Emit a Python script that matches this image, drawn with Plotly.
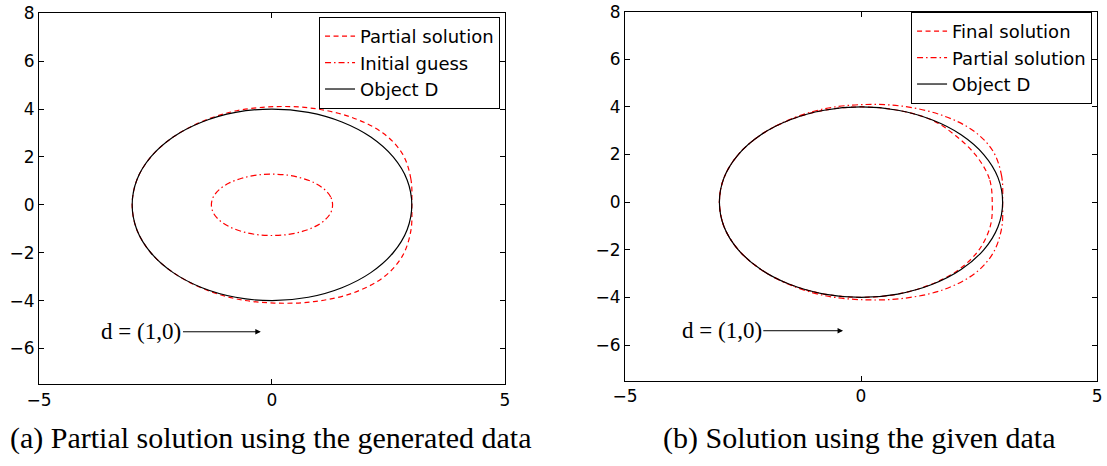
import plotly.graph_objects as go

# Boundary curves, sampled every 15 degrees around the shape (closed loops)
object_x = [3.00, 2.90, 2.60, 2.12, 1.50, 0.78, 0.00, -0.78, -1.50, -2.12, -2.60, -2.90, -3.00,
            -2.90, -2.60, -2.12, -1.50, -0.78, 0.00, 0.78, 1.50, 2.12, 2.60, 2.90, 3.00]
object_y = [0.00, 1.04, 2.00, 2.83, 3.46, 3.86, 4.00, 3.86, 3.46, 2.83, 2.00, 1.04, 0.00,
            -1.04, -2.00, -2.83, -3.46, -3.86, -4.00, -3.86, -3.46, -2.83, -2.00, -1.04, 0.00]

partial_x = [3.00, 2.98, 2.80, 2.38, 1.70, 0.88, 0.05, -0.76, -1.50, -2.12, -2.60, -2.90, -3.00,
             -2.90, -2.60, -2.12, -1.50, -0.76, 0.05, 0.90, 1.74, 2.42, 2.80, 2.98, 3.00]
partial_y = [0.00, 1.08, 2.13, 3.00, 3.66, 4.03, 4.10, 3.93, 3.48, 2.83, 2.00, 1.04, 0.00,
             -1.04, -2.00, -2.83, -3.48, -3.93, -4.10, -4.04, -3.68, -2.98, -2.13, -1.08, 0.00]

initial_x = [1.30, 1.26, 1.13, 0.92, 0.65, 0.34, 0.00, -0.34, -0.65, -0.92, -1.13, -1.26, -1.30,
             -1.26, -1.13, -0.92, -0.65, -0.34, 0.00, 0.34, 0.65, 0.92, 1.13, 1.26, 1.30]
initial_y = [0.00, 0.33, 0.64, 0.91, 1.11, 1.24, 1.28, 1.24, 1.11, 0.91, 0.64, 0.33, 0.00,
             -0.33, -0.64, -0.91, -1.11, -1.24, -1.28, -1.24, -1.11, -0.91, -0.64, -0.33, 0.00]

final_x = [2.78, 2.72, 2.44, 2.00, 1.50, 0.78, 0.00, -0.78, -1.50, -2.12, -2.60, -2.90, -3.00,
           -2.90, -2.60, -2.12, -1.50, -0.78, 0.00, 0.78, 1.49, 2.08, 2.50, 2.74, 2.78]
final_y = [0.00, 0.98, 1.95, 2.80, 3.45, 3.86, 4.00, 3.86, 3.46, 2.83, 2.00, 1.04, 0.00,
           -1.04, -2.00, -2.83, -3.46, -3.86, -4.00, -3.86, -3.45, -2.82, -2.00, -1.00, 0.00]

x_ticks = [-5, 0, 5]
y_ticks = [-6, -4, -2, 0, 2, 4, 6, 8]
x_range = [-5, 5]
y_range = [-7.5, 8]

direction_label = "d = (1,0)"
captions = ["(a) Partial solution using the generated data",
            "(b) Solution using the given data"]

RED = "#ff0000"
DASH = "5px,3.5px"
DASHDOT = "6px,3px,1.5px,3px"
TICK_FONT = dict(family="DejaVu Sans", size=17, color="black")

fig = go.Figure()

# Panel (a)
fig.add_trace(go.Scatter(x=partial_x, y=partial_y, mode="lines", name="Partial solution",
                         line=dict(color=RED, width=1.2, dash=DASH, shape="spline"),
                         xaxis="x", yaxis="y", legend="legend"))
fig.add_trace(go.Scatter(x=initial_x, y=initial_y, mode="lines", name="Initial guess",
                         line=dict(color=RED, width=1.2, dash=DASHDOT, shape="spline"),
                         xaxis="x", yaxis="y", legend="legend"))
fig.add_trace(go.Scatter(x=object_x, y=object_y, mode="lines", name="Object D",
                         line=dict(color="black", width=1.2, shape="spline"),
                         xaxis="x", yaxis="y", legend="legend"))

# Panel (b)
fig.add_trace(go.Scatter(x=final_x, y=final_y, mode="lines", name="Final solution",
                         line=dict(color=RED, width=1.2, dash=DASH, shape="spline"),
                         xaxis="x2", yaxis="y2", legend="legend2"))
fig.add_trace(go.Scatter(x=partial_x, y=partial_y, mode="lines", name="Partial solution",
                         line=dict(color=RED, width=1.2, dash=DASHDOT, shape="spline"),
                         xaxis="x2", yaxis="y2", legend="legend2"))
fig.add_trace(go.Scatter(x=object_x, y=object_y, mode="lines", name="Object D",
                         line=dict(color="black", width=1.2, shape="spline"),
                         xaxis="x2", yaxis="y2", legend="legend2"))


def axis(domain, anchor, vals, rng):
    return dict(domain=domain, anchor=anchor, range=rng, tickvals=vals, automargin=False,
                showgrid=False, zeroline=False, showline=True, mirror="ticks",
                linecolor="black", linewidth=1.2, ticks="inside", ticklen=5,
                tickcolor="black", tickwidth=1, tickfont=TICK_FONT)


legend_style = dict(bgcolor="white", bordercolor="black", borderwidth=1,
                    font=dict(family="DejaVu Sans", size=18, color="black"),
                    xanchor="right", yanchor="top", tracegroupgap=0)

fig.update_layout(
    width=1107, height=466,
    margin=dict(l=0, r=0, t=0, b=0),
    paper_bgcolor="white", plot_bgcolor="white",
    showlegend=True,
    xaxis=axis([0.0352, 0.4562], "y", x_ticks, x_range),
    yaxis=axis([0.175, 0.9715], "x", y_ticks, y_range),
    xaxis2=axis([0.5646, 0.9910], "y2", x_ticks, x_range),
    yaxis2=axis([0.183, 0.9749], "x2", y_ticks, y_range),
    legend=dict(x=0.4517, y=0.9635, **legend_style),
    legend2=dict(x=0.9865, y=0.9742, **legend_style),
)

# Incidence-direction arrows
for xr, yr, tail, head, yv in [("x", "y", -2.8, -0.24, -5.3), ("x2", "y2", -2.95, -0.38, -5.4)]:
    fig.add_annotation(x=head, y=yv, ax=tail, ay=yv, xref=xr, yref=yr, axref=xr, ayref=yr,
                       text=direction_label, showarrow=True, arrowhead=2, arrowsize=1.1,
                       arrowwidth=1, arrowcolor="black", standoff=0,
                       font=dict(family="Liberation Serif", size=23, color="black"))

# Sub-figure captions
for cx, txt in zip([0.2448, 0.776], captions):
    fig.add_annotation(x=cx, y=0.06, xref="paper", yref="paper", text=txt, showarrow=False,
                       xanchor="center", yanchor="middle",
                       font=dict(family="Liberation Serif", size=30, color="black"))

fig.write_html("out.html")
